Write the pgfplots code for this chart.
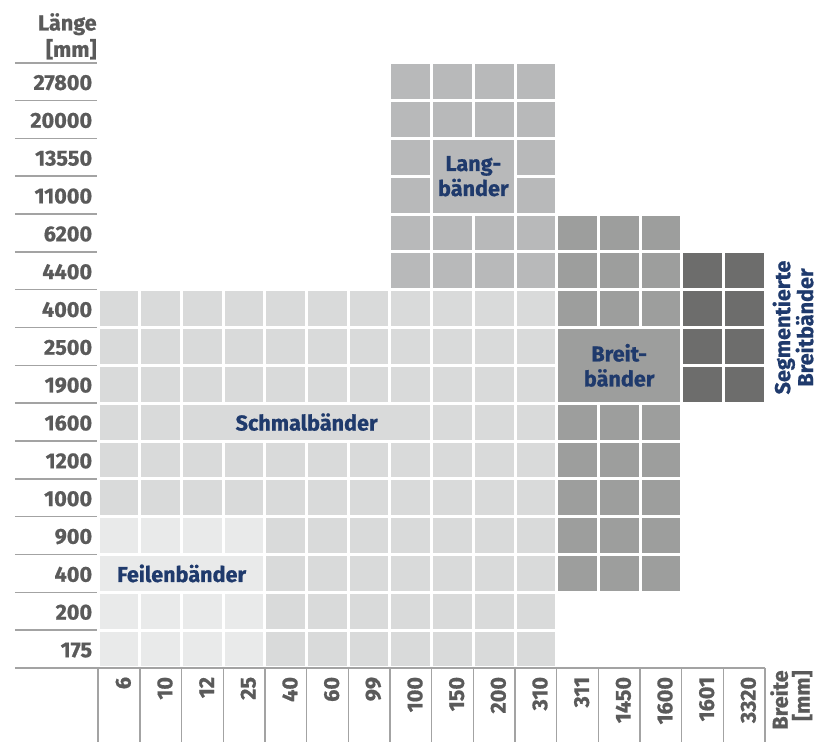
\documentclass[border=0pt]{standalone}
\usepackage{fontspec}
\setmainfont{Fira Sans}[BoldFont={Fira Sans Bold}, BoldFeatures={FakeBold=0.8}]
\usepackage{pgfplots}
\pgfplotsset{compat=1.18}
\definecolor{cFeil}{HTML}{E9EAEA}
\definecolor{cSchm}{HTML}{D9DADA}
\definecolor{cLang}{HTML}{B8B9BA}
\definecolor{cBreit}{HTML}{9D9E9D}
\definecolor{cSeg}{HTML}{6D6D6C}
\definecolor{navy}{HTML}{1F3A6C}
\definecolor{tickgray}{HTML}{5A5A5A}
\definecolor{sepgray}{HTML}{A3A3A3}
% cell pitch: 20.835pt x 18.915pt, white gap 1.5pt
\newcommand{\defblock}[3]{\pgfdeclareplotmark{#1}{\pgfpathrectangle{\pgfpoint{-#2/2}{-#3/2}}{\pgfpoint{#2}{#3}}\pgfusepathqfill}}
\defblock{cell}{19.335pt}{17.415pt}
\defblock{feilblock}{81.84pt}{17.415pt}
\defblock{schmblock}{123.51pt}{17.415pt}
\defblock{langblock}{40.17pt}{36.33pt}
\defblock{breitblock}{61.005pt}{36.33pt}
\newcommand{\lblfont}{\bfseries\fontsize{10.8}{12.5}\selectfont}
\begin{document}
\begin{tikzpicture}
\begin{axis}[
  set layers,
  x=20.835pt, y=18.915pt,
  xmin=-0.5, xmax=15.5, ymin=-0.5, ymax=15.5,
  axis line style={draw=none},
  major tick length=0pt,
  clip=false,
  /pgf/number format/assume math mode=true,
  xtick={0.1,1.1,2.1,3.1,4.1,5.1,6.1,7.1,8.1,9.1,10.1,11.1,12.1,13.1,14.1,15.1},
  xticklabels={6,10,12,25,40,60,99,100,150,200,310,311,1450,1600,1601,3320},
  ytick={0,...,15},
  yticklabels={175,200,400,900,1000,1200,1600,1900,2500,4000,4400,6200,11000,13550,20000,27800},
  tick label style={font=\lblfont, text=tickgray, inner sep=0pt},
  xticklabel style={rotate=90, anchor=east},
  xticklabel shift=4.3pt,
  yticklabel style={anchor=east, yshift=-0.5pt},
  yticklabel shift=2.9pt,
]
% Feilenbaender
\addplot[only marks, mark=cell, color=cFeil] table[row sep=\\]{
x y\\ 0 0\\ 1 0\\ 2 0\\ 3 0\\ 0 1\\ 1 1\\ 2 1\\ 3 1\\ 0 3\\ 1 3\\ 2 3\\ 3 3\\
};
\addplot[only marks, mark=feilblock, color=cFeil] table[row sep=\\]{
x y\\ 1.5 2\\
};
% Schmalbaender
\addplot[only marks, mark=cell, color=cSchm] table[row sep=\\]{
x y\\
4 0\\ 5 0\\ 6 0\\ 7 0\\ 8 0\\ 9 0\\ 10 0\\
4 1\\ 5 1\\ 6 1\\ 7 1\\ 8 1\\ 9 1\\ 10 1\\
4 2\\ 5 2\\ 6 2\\ 7 2\\ 8 2\\ 9 2\\ 10 2\\
4 3\\ 5 3\\ 6 3\\ 7 3\\ 8 3\\ 9 3\\ 10 3\\
0 4\\ 1 4\\ 2 4\\ 3 4\\ 4 4\\ 5 4\\ 6 4\\ 7 4\\ 8 4\\ 9 4\\ 10 4\\
0 5\\ 1 5\\ 2 5\\ 3 5\\ 4 5\\ 5 5\\ 6 5\\ 7 5\\ 8 5\\ 9 5\\ 10 5\\
0 6\\ 1 6\\ 8 6\\ 9 6\\ 10 6\\
0 7\\ 1 7\\ 2 7\\ 3 7\\ 4 7\\ 5 7\\ 6 7\\ 7 7\\ 8 7\\ 9 7\\ 10 7\\
0 8\\ 1 8\\ 2 8\\ 3 8\\ 4 8\\ 5 8\\ 6 8\\ 7 8\\ 8 8\\ 9 8\\ 10 8\\
0 9\\ 1 9\\ 2 9\\ 3 9\\ 4 9\\ 5 9\\ 6 9\\ 7 9\\ 8 9\\ 9 9\\ 10 9\\
};
\addplot[only marks, mark=schmblock, color=cSchm] table[row sep=\\]{
x y\\ 4.5 6\\
};
% Langbaender
\addplot[only marks, mark=cell, color=cLang] table[row sep=\\]{
x y\\
7 10\\ 8 10\\ 9 10\\ 10 10\\
7 11\\ 8 11\\ 9 11\\ 10 11\\
7 12\\ 10 12\\
7 13\\ 10 13\\
7 14\\ 8 14\\ 9 14\\ 10 14\\
7 15\\ 8 15\\ 9 15\\ 10 15\\
};
\addplot[only marks, mark=langblock, color=cLang] table[row sep=\\]{
x y\\ 8.5 12.5\\
};
% Breitbaender
\addplot[only marks, mark=cell, color=cBreit] table[row sep=\\]{
x y\\
11 2\\ 12 2\\ 13 2\\
11 3\\ 12 3\\ 13 3\\
11 4\\ 12 4\\ 13 4\\
11 5\\ 12 5\\ 13 5\\
11 6\\ 12 6\\ 13 6\\
11 9\\ 12 9\\ 13 9\\
11 10\\ 12 10\\ 13 10\\
11 11\\ 12 11\\ 13 11\\
};
\addplot[only marks, mark=breitblock, color=cBreit] table[row sep=\\]{
x y\\ 12 7.5\\
};
% Segmentierte Breitbaender
\addplot[only marks, mark=cell, color=cSeg] table[row sep=\\]{
x y\\
14 7\\ 15 7\\ 14 8\\ 15 8\\ 14 9\\ 15 9\\ 14 10\\ 15 10\\
};
% region labels
\begin{pgfonlayer}{axis foreground}
\node[font=\lblfont, text=navy] at (axis cs:1.5,2) {Feilenbänder};
\node[font=\lblfont, text=navy] at (axis cs:4.5,6) {Schmalbänder};
\node[font=\lblfont, text=navy, align=center] at (axis cs:8.5,12.5) {Lang-\\bänder};
\node[font=\lblfont, text=navy, align=center] at (axis cs:12,7.5) {Breit-\\bänder};
\end{pgfonlayer}
\node[font=\bfseries\fontsize{10.8}{11.5}\selectfont, text=navy, align=center, rotate=90, anchor=north, inner sep=0pt]
  at ([xshift=3.6pt]axis cs:15.5,8.5) {Segmentierte\\Breitbänder};
% separators
\pgfplotsinvokeforeach{0,...,15}{
  \draw[sepgray, line width=0.8pt] ([xshift=-41.65pt]axis cs:-0.5,#1+0.5) -- ([xshift=-0.65pt]axis cs:-0.5,#1+0.5);
}
\draw[sepgray, line width=0.8pt] ([xshift=-41.65pt]axis cs:-0.5,-0.5) -- (axis cs:15.5,-0.5);
\pgfplotsinvokeforeach{0,...,16}{
  \draw[sepgray, line width=0.8pt] (axis cs:#1-0.5,-0.5) -- ([yshift=-37pt]axis cs:#1-0.5,-0.5);
}
\node[font=\bfseries\fontsize{10.8}{11}\selectfont, text=tickgray, align=right, rotate=90, anchor=north east, inner sep=0pt]
  at ([xshift=2.4pt, yshift=-1pt]axis cs:15.5,-0.5) {Breite\\{[mm]}};
\node[font=\bfseries\fontsize{10.8}{13.2}\selectfont, text=tickgray, align=right, anchor=north east, inner sep=0pt]
  at ([xshift=-0.65pt, yshift=327.6pt]axis cs:-0.5,-0.5) {Länge\\{[mm]}};
\coordinate (O) at (axis cs:-0.5,-0.5);
\end{axis}
\pgfresetboundingbox
\path ([shift={(-49.15pt,-37pt)}]O) rectangle ([shift={(359.85pt,334pt)}]O);
\end{tikzpicture}
\end{document}
